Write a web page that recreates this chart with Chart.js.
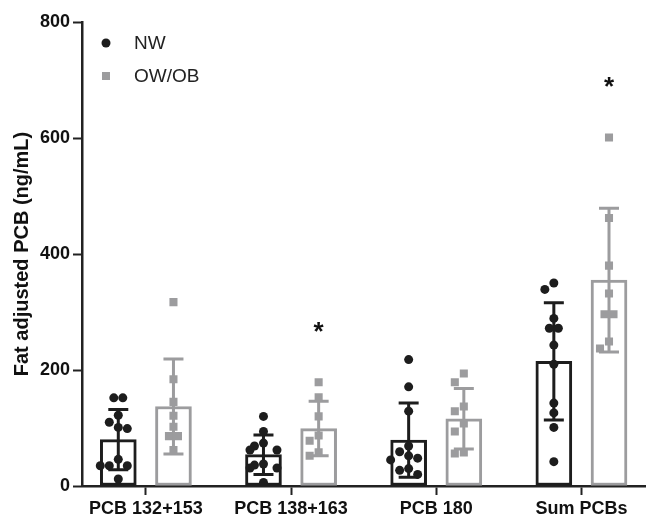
<!DOCTYPE html>
<html>
<head>
<meta charset="utf-8">
<title>Fat adjusted PCB</title>
<script src="https://cdn.jsdelivr.net/npm/chart.js@4.4.1/dist/chart.umd.min.js"></script>
<style>
  html, body { margin: 0; padding: 0; background: #fff; }
  #wrap { width: 651px; height: 516px; position: relative; }
</style>
</head>
<body>
<div id="wrap"><canvas id="chart"></canvas></div>
<script>
// Data
const categories = ['PCB 132+153', 'PCB 138+163', 'PCB 180', 'Sum PCBs'];
const seriesNames = ['NW', 'OW/OB'];
const nwMean = [80, 54, 79, 215];
const nwSd = [52, 34, 64, 101];
const owMean = [137, 99, 116, 355];
const owSd = [82, 47, 52, 124];
const nwPoints = [
  [152, 152, 122, 110, 101, 99, 46, 35, 35, 35, 12],
  [120, 94, 74, 69, 62, 62, 38, 36, 31, 31, 6],
  [218, 171, 129, 69, 59, 52, 48, 45, 30, 27, 20],
  [350, 339, 289, 272, 272, 243, 210, 143, 126, 101, 42]
];
const owPoints = [
  [317, 184, 145, 121, 102, 86, 86, 62],
  [179, 153, 120, 87, 78, 58, 52],
  [194, 179, 137, 129, 108, 94, 58, 56],
  [601, 462, 380, 332, 296, 296, 249, 237]
];
const owSignificant = [false, true, false, true];
const yTicks = [0, 200, 400, 600, 800];

const NW_COLOR = '#1d1d1d';
const OW_COLOR = '#9c9c9e';
const AXIS_COLOR = '#222';
const FONT = '"Liberation Sans", Arial, sans-serif';
const GROUP_OFF = 0.19;   // half distance between the two bars of a group (x units)
const DOT = 9;            // point diameter in px, for the swarm layout

const barData = (means, off) => means.map((v, i) => ({ x: i + off, y: v }));
const dotData = (pts, off) => pts.flatMap((arr, i) => arr.map(v => ({ x: i + off, y: v })));

// error bars, drawn right after each bar dataset
const errorBars = {
  id: 'errorBars',
  afterDatasetDraw(chart, args) {
    const ds = chart.data.datasets[args.index];
    if (!ds.sd) return;
    const xs = chart.scales.x, ys = chart.scales.y, ctx = chart.ctx;
    ctx.save();
    ctx.strokeStyle = ds.borderColor;
    ctx.lineWidth = 3;
    ds.data.forEach((p, i) => {
      const x = xs.getPixelForValue(p.x);
      const top = ys.getPixelForValue(p.y + ds.sd[i]);
      const bot = ys.getPixelForValue(Math.max(0, p.y - ds.sd[i]));
      ctx.beginPath();
      ctx.moveTo(x, top); ctx.lineTo(x, bot);
      ctx.moveTo(x - 10, top); ctx.lineTo(x + 10, top);
      ctx.moveTo(x - 10, bot); ctx.lineTo(x + 10, bot);
      ctx.stroke();
    });
    ctx.restore();
  }
};

// legend in the top-left corner + significance stars
const extras = {
  id: 'extras',
  afterDraw(chart) {
    const ctx = chart.ctx, ca = chart.chartArea;
    const xs = chart.scales.x, ys = chart.scales.y;
    ctx.save();
    ctx.textBaseline = 'middle';
    ctx.font = '19px ' + FONT;
    // NW
    ctx.fillStyle = NW_COLOR;
    ctx.beginPath();
    ctx.arc(ca.left + 24, ca.top + 21, 4.5, 0, Math.PI * 2);
    ctx.fill();
    ctx.fillStyle = '#222';
    ctx.fillText(seriesNames[0], ca.left + 52, ca.top + 22);
    // OW/OB
    ctx.fillStyle = OW_COLOR;
    ctx.fillRect(ca.left + 20, ca.top + 50, 8, 8);
    ctx.fillStyle = '#222';
    ctx.fillText(seriesNames[1], ca.left + 52, ca.top + 55);
    // stars
    ctx.font = 'bold 26px ' + FONT;
    ctx.textAlign = 'center';
    ctx.fillStyle = '#111';
    owSignificant.forEach((s, i) => {
      if (!s) return;
      const top = Math.max(...owPoints[i]);
      ctx.fillText('*', xs.getPixelForValue(i + GROUP_OFF), ys.getPixelForValue(top + 95) + 6);
    });
    ctx.restore();
  }
};

const chart = new Chart(document.getElementById('chart'), {
  data: {
    datasets: [
      {
        type: 'bar', label: seriesNames[0], data: barData(nwMean, -GROUP_OFF), sd: nwSd,
        backgroundColor: '#fff', borderColor: NW_COLOR, borderWidth: 3, borderSkipped: false,
        barThickness: 36, grouped: false, order: 4
      },
      {
        type: 'bar', label: seriesNames[1], data: barData(owMean, GROUP_OFF), sd: owSd,
        backgroundColor: '#fff', borderColor: OW_COLOR, borderWidth: 3, borderSkipped: false,
        barThickness: 36, grouped: false, order: 3
      },
      {
        type: 'scatter', label: seriesNames[0], data: dotData(nwPoints, -GROUP_OFF),
        pointStyle: 'circle', pointRadius: 4.5, backgroundColor: NW_COLOR, borderWidth: 0, order: 2
      },
      {
        type: 'scatter', label: seriesNames[1], data: dotData(owPoints, GROUP_OFF),
        pointStyle: 'rect', pointRadius: 5.7, backgroundColor: OW_COLOR, borderWidth: 0, order: 1
      }
    ]
  },
  options: {
    responsive: true,
    maintainAspectRatio: false,
    animation: false,
    layout: { padding: { top: 22, right: 0, left: 0, bottom: 0 } },
    plugins: { legend: { display: false }, tooltip: { enabled: false } },
    scales: {
      x: {
        type: 'linear', min: -0.44, max: 3.44, offset: false,
        afterBuildTicks: s => { s.ticks = categories.map((c, i) => ({ value: i })); },
        afterFit: s => { s.height = 30; },
        grid: { offset: false, drawOnChartArea: false, drawTicks: true, tickLength: 9, tickColor: AXIS_COLOR, tickWidth: 2 },
        border: { color: AXIS_COLOR, width: 2.5 },
        ticks: {
          callback: v => categories[v], color: '#111', padding: 3, maxRotation: 0, autoSkip: false,
          font: { family: FONT, size: 18, weight: 'bold' }
        }
      },
      y: {
        min: 0, max: 800,
        afterBuildTicks: s => { s.ticks = yTicks.map(v => ({ value: v })); },
        afterFit: s => { s.width = 82; },
        grid: { drawOnChartArea: false, drawTicks: true, tickLength: 9, tickColor: AXIS_COLOR, tickWidth: 2 },
        border: { color: AXIS_COLOR, width: 2.5 },
        ticks: { color: '#111', padding: 3, font: { family: FONT, size: 18, weight: 'bold' } },
        title: {
          display: true, text: 'Fat adjusted PCB (ng/mL)', color: '#111', padding: { top: 10, bottom: 0 },
          font: { family: FONT, size: 20, weight: 'bold' }
        }
      }
    }
  },
  plugins: [errorBars, extras]
});

// spread points sideways so they do not overlap (simple beeswarm through the scales),
// then centre each row of side-by-side points on the bar
function swarm(groups, off) {
  const xs = chart.scales.x, ys = chart.scales.y;
  return groups.flatMap((vals, i) => {
    const cx = xs.getPixelForValue(i + off);
    const placed = [];
    vals.forEach(v => {
      const py = ys.getPixelForValue(v);
      let dx = 0;
      for (let k = 0; k < 40; k++) {
        const cand = k === 0 ? 0 : (k % 2 ? -1 : 1) * Math.ceil(k / 2) * DOT;
        if (placed.every(p => Math.hypot(p.dx - cand, p.py - py) >= DOT)) { dx = cand; break; }
      }
      placed.push({ dx, py, v });
    });
    // rows with an even count of equal values get shifted half a dot
    const rows = {};
    placed.forEach(p => { (rows[p.v] = rows[p.v] || []).push(p); });
    Object.values(rows).forEach(r => {
      if (r.length % 2 === 0) r.forEach(p => { p.dx += DOT / 2 * (Math.min(...r.map(q => q.dx)) < 0 ? 1 : -1); });
    });
    return placed.map(p => ({ x: xs.getValueForPixel(cx + p.dx), y: p.v }));
  });
}
chart.data.datasets[2].data = swarm(nwPoints, -GROUP_OFF);
chart.data.datasets[3].data = swarm(owPoints, GROUP_OFF);
chart.update('none');
</script>
</body>
</html>
